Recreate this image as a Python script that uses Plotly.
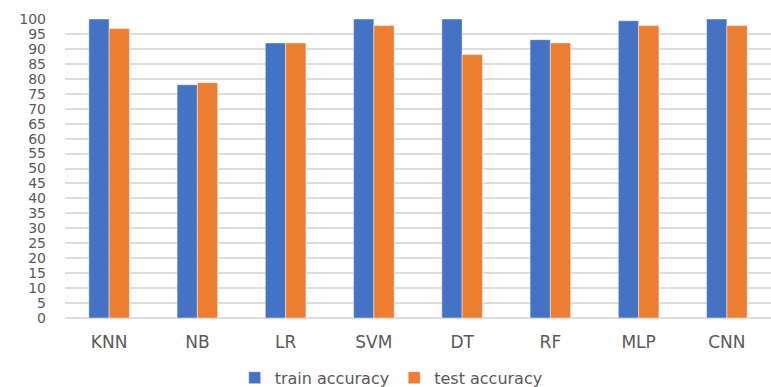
import plotly.graph_objects as go

models = ["KNN", "NB", "LR", "SVM", "DT", "RF", "MLP", "CNN"]
train_accuracy = [100, 78.0, 92.0, 100, 100, 93.1, 99.4, 100]
test_accuracy = [96.8, 78.7, 92.0, 97.8, 88.1, 92.0, 97.8, 97.8]
y_ticks = list(range(0, 101, 5))

fig = go.Figure()
fig.add_trace(go.Bar(
    x=models, y=train_accuracy, name="train accuracy",
    marker=dict(color="#4472C4", line=dict(color="rgba(255,255,255,0.45)", width=1)),
))
fig.add_trace(go.Bar(
    x=models, y=test_accuracy, name="test accuracy",
    marker=dict(color="#ED7D31", line=dict(color="rgba(255,255,255,0.45)", width=1)),
))

fig.update_layout(
    width=771, height=387,
    margin=dict(l=65, r=0, t=19, b=69, autoexpand=False),
    paper_bgcolor="white", plot_bgcolor="white",
    barmode="group", bargap=0.54, bargroupgap=0,
    font=dict(family="DejaVu Sans", size=15, color="#595959"),
    legend=dict(
        orientation="h", xref="paper", x=0.462, xanchor="center",
        yref="paper", y=-0.2, yanchor="middle",
        font=dict(size=16, color="#595959"),
        traceorder="normal",
    ),
    xaxis=dict(
        showgrid=False, showline=False, ticks="",
        ticklabelstandoff=12, tickangle=0,
        tickfont=dict(size=17, color="#595959"),
    ),
    yaxis=dict(
        range=[0, 100], tickvals=y_ticks, ticktext=[str(v) for v in y_ticks],
        showgrid=True, gridcolor="#DDDDDD", gridwidth=1.5,
        zeroline=True, zerolinecolor="#DDDDDD", zerolinewidth=1.5,
        ticks="", ticklabelstandoff=18,
        tickfont=dict(size=14, color="#595959"),
    ),
)

fig.write_html("out.html")
